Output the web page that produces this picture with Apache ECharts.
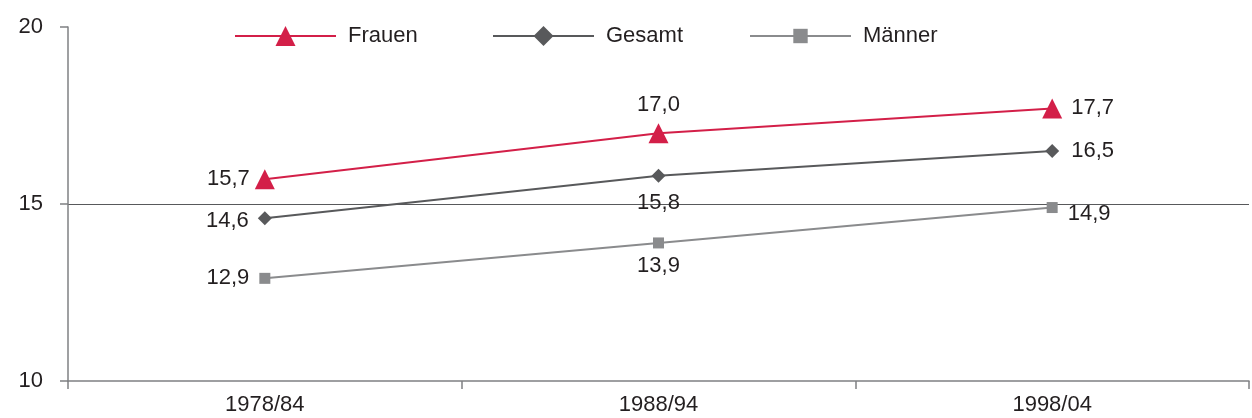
<!DOCTYPE html>
<html>
<head>
<meta charset="utf-8">
<script src="https://cdn.jsdelivr.net/npm/echarts@6/dist/echarts.min.js"></script>
<style>
  html, body { margin: 0; padding: 0; background: #fff; }
  #chart { width: 1252px; height: 418px; }
</style>
</head>
<body>
<div id="chart"></div>
<script>
// Periods and values per group
const periods = ['1978/84', '1988/94', '1998/04'];
const frauen = [15.7, 17.0, 17.7];
const gesamt = [14.6, 15.8, 16.5];
const maenner = [12.9, 13.9, 14.9];
const yTicks = [10, 15, 20];

const FONT = '"Liberation Sans", Arial, sans-serif';
const TEXT = '#231f20';
const FS = 22;
const fmt = v => v.toFixed(1).replace('.', ',');

// label placement per point: [position, distance, extra offset]
function withLabels(values, places) {
  return values.map((v, i) => ({
    value: v,
    label: {
      position: places[i][0],
      distance: places[i][1],
      offset: places[i][2] || [0, 0]
    }
  }));
}

function lineSeries(name, values, color, symbol, size, places) {
  return {
    name: name,
    type: 'line',
    data: withLabels(values, places),
    symbol: symbol,
    symbolSize: size,
    lineStyle: { color: color, width: 2 },
    itemStyle: { color: color },
    label: {
      show: true,
      formatter: p => fmt(p.value),
      color: TEXT,
      fontFamily: FONT,
      fontSize: FS
    },
    z: 3
  };
}

function legendAt(left, name, itemHeight) {
  return {
    data: [name],
    left: left,
    top: 20,
    itemWidth: 101,
    itemHeight: itemHeight,
    textStyle: { color: TEXT, fontFamily: FONT, fontSize: FS, padding: [0, 0, 0, 7] },
    selectedMode: false
  };
}

const chart = echarts.init(document.getElementById('chart'), null, { renderer: 'canvas' });
chart.setOption({
  animation: false,
  backgroundColor: '#ffffff',
  legend: [
    legendAt(229, 'Frauen', 25),
    legendAt(487, 'Gesamt', 25),
    legendAt(744, 'Männer', 18)
  ],
  grid: { left: 68, right: 3, top: 27, bottom: 37, containLabel: false },
  xAxis: {
    type: 'category',
    data: periods,
    boundaryGap: true,
    axisLine: { lineStyle: { color: '#7f8083', width: 1.5 } },
    axisTick: { show: true, length: 8, lineStyle: { color: '#7f8083', width: 1.5 } },
    axisLabel: { color: TEXT, fontFamily: FONT, fontSize: FS, margin: 13 },
    splitLine: { show: false }
  },
  yAxis: {
    type: 'value',
    min: yTicks[0],
    max: yTicks[yTicks.length - 1],
    interval: yTicks[1] - yTicks[0],
    axisLine: { show: true, lineStyle: { color: '#7f8083', width: 1.5 } },
    axisTick: { show: true, length: 8, lineStyle: { color: '#7f8083', width: 1.5 } },
    axisLabel: { color: TEXT, fontFamily: FONT, fontSize: FS, margin: 25 },
    splitLine: {
      show: true,
      showMinLine: false,
      showMaxLine: false,
      lineStyle: { color: '#58595b', width: 1.2 }
    }
  },
  series: [
    lineSeries('Frauen', frauen, '#d31f48', 'triangle', 20,
      [['left', 5], ['top', 7], ['right', 9]]),
    lineSeries('Gesamt', gesamt, '#58595b', 'diamond', 14,
      [['left', 9, [0, 3]], ['bottom', 9], ['right', 12]]),
    lineSeries('Männer', maenner, '#8a8b8d', 'rect', 11,
      [['left', 10], ['bottom', 6], ['right', 10, [0, 6]]])
  ]
});
</script>
</body>
</html>
